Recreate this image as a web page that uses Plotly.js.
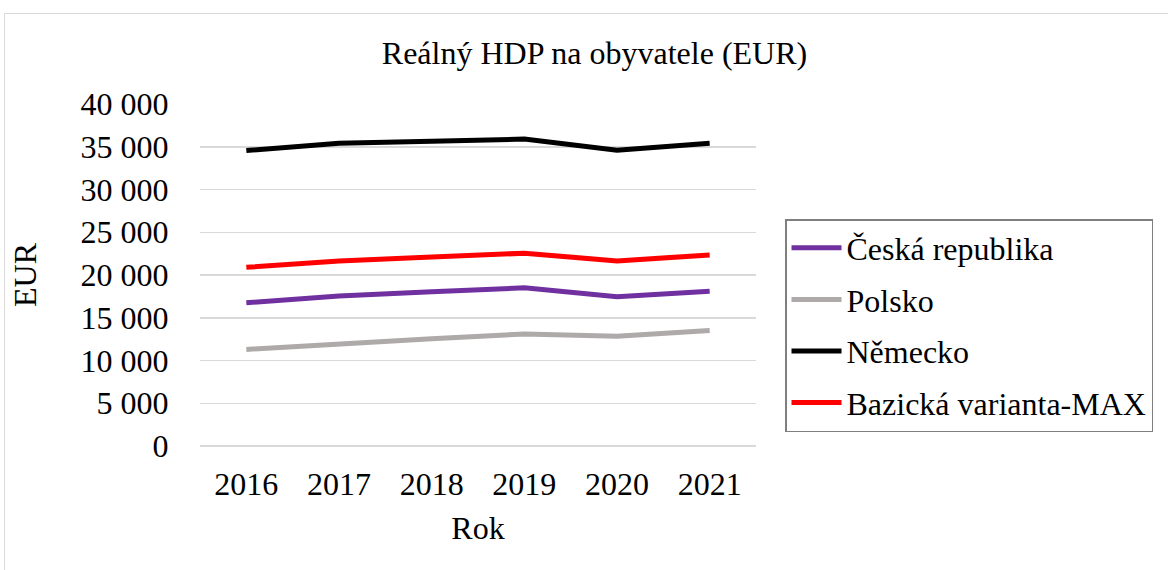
<!DOCTYPE html>
<html><head><meta charset="utf-8">
<script src="https://cdn.plot.ly/plotly-3.0.1.min.js"></script>
<style>
html,body{margin:0;padding:0;background:#fff;overflow:hidden}
#frame{position:absolute;left:4px;top:13px;width:1180px;height:600px;border:1px solid #d9d9d9;box-sizing:border-box}
#chart{position:absolute;left:0;top:0;width:1168px;height:570px}
</style></head>
<body>
<div id="frame"></div>
<div id="chart"></div>
<script>
const years = ['2016','2017','2018','2019','2020','2021'];
const ceskaRepublika = [16750, 17550, 18050, 18500, 17450, 18100];
const polsko = [11300, 11950, 12550, 13100, 12850, 13500];
const nemecko = [34550, 35400, 35650, 35900, 34600, 35400];
const bazickaMax = [20900, 21650, 22100, 22550, 21650, 22350];

const seriesNames = ['Česká republika', 'Polsko', 'Německo', 'Bazická varianta-MAX'];
const seriesColors = ['#7030A0', '#ADAAA9', '#000000', '#FF0000'];
const seriesData = [ceskaRepublika, polsko, nemecko, bazickaMax];

const traces = seriesData.map((d, i) => ({
  type: 'scatter', mode: 'lines', x: years, y: d, name: seriesNames[i],
  legendgroup: 'g' + i,
  line: {color: seriesColors[i], width: 5}
}));

const font = {family: 'Liberation Serif', color: '#000', size: 32};

const layout = {
  width: 1168, height: 570,
  paper_bgcolor: 'rgba(0,0,0,0)', plot_bgcolor: 'rgba(0,0,0,0)',
  font: font,
  separators: ', ',
  margin: {l: 200, r: 412, t: 104, b: 124},
  title: {text: 'Reálný HDP na obyvatele (EUR)', font: font,
          x: (383 + 806) / 2 / 1168, xref: 'container', xanchor: 'center', y: 1 - 53/570, yref: 'container', yanchor: 'middle'},
  xaxis: {
    type: 'category', range: [-0.5, 5.5], showgrid: false, zeroline: false,
    showline: false, ticks: 'outside', ticklen: 10, tickcolor: 'rgba(0,0,0,0)',
    tickfont: font,
    title: {text: 'Rok', font: font, standoff: 15}
  },
  yaxis: {
    range: [0, 40000], dtick: 5000, tick0: 0, separatethousands: true, tickformat: ',d',
    showgrid: true, gridcolor: '#d9d9d9', gridwidth: 1.5, zeroline: true, zerolinecolor: '#d9d9d9', zerolinewidth: 1.5,
    showline: false, ticks: 'outside', ticklen: 24, tickcolor: 'rgba(0,0,0,0)',
    tickfont: font,
    title: {text: 'EUR', font: font, standoff: 34}
  },
  showlegend: true,
  legend: {
    x: (785 - 200) / 556, xanchor: 'left', y: (446 - 219) / 342, yanchor: 'top',
    bordercolor: '#7f7f7f', borderwidth: 1.5, bgcolor: '#fff',
    font: font, tracegroupgap: 7, traceorder: 'grouped', itemwidth: 50
  }
};

Plotly.newPlot('chart', traces, layout, {displayModeBar: false, staticPlot: true});
</script>
</body></html>
